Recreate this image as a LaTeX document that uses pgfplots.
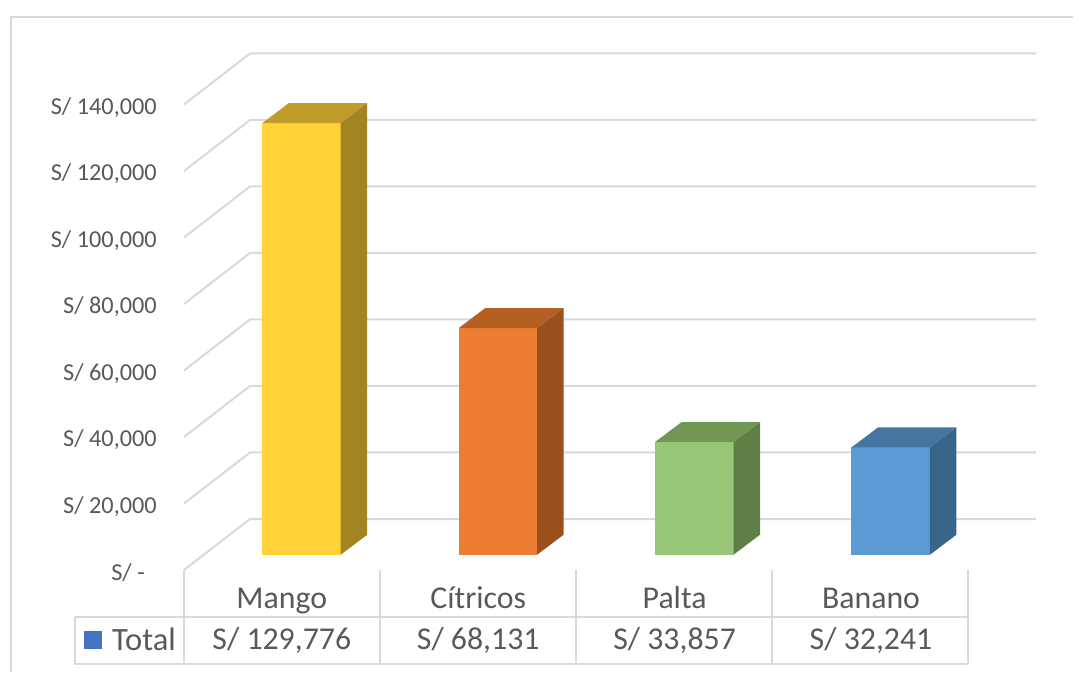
\documentclass[border=0pt]{standalone}
\usepackage{pgfplots}
\pgfplotsset{compat=1.18}
\usepackage{fontspec}
\setmainfont{Carlito}

\definecolor{gridgray}{HTML}{D9D9D9}
\definecolor{textgray}{HTML}{595959}
\definecolor{mangoF}{HTML}{FFD238}
\definecolor{mangoT}{HTML}{C09C2A}
\definecolor{mangoS}{HTML}{A38423}
\definecolor{citF}{HTML}{ED7D31}
\definecolor{citT}{HTML}{B55F22}
\definecolor{citS}{HTML}{99501B}
\definecolor{paltaF}{HTML}{97C776}
\definecolor{paltaT}{HTML}{739856}
\definecolor{paltaS}{HTML}{5F7F47}
\definecolor{bananoF}{HTML}{5B9BD5}
\definecolor{bananoT}{HTML}{4575A0}
\definecolor{bananoS}{HTML}{38648A}
\definecolor{keyblue}{HTML}{4472C4}

\newcommand{\rowstrut}{\rule{0pt}{24pt}}

\begin{document}
\begin{tikzpicture}
\begin{axis}[
    scale only axis,
    width=852pt,
    height=517pt,
    xmin=-0.598, xmax=3.740,
    ymin=-4602, ymax=150887,
    clip=false,
    axis line style={draw=none},
    tick style={draw=none},
    unbounded coords=jump,
    scaled y ticks=false,
    % front edge of the floor sits below the bars' base, so ticks are offset
    ytick={-4602,15398,35398,55398,75398,95398,115398,135398},
    yticklabels={{S/ -\rule{12pt}{0pt}},{S/ 20,000},{S/ 40,000},{S/ 60,000},{S/ 80,000},{S/ 100,000},{S/ 120,000},{S/ 140,000}},
    yticklabel style={font=\fontsize{24.3}{28}\selectfont, text=textgray, inner sep=0pt, xshift=-27pt, yshift=-3pt},
    ytick pos=left,
    xtick={-0.1,0.9,1.9,2.9},
    xticklabels={{\rowstrut Mango\\S/ 129,776},{\rowstrut Cítricos\\S/ 68,131},{\rowstrut Palta\\S/ 33,857},{\rowstrut Banano\\S/ 32,241}},
    xticklabel style={font=\fontsize{31.8}{41}\selectfont, text=textgray, align=center, inner sep=0pt, yshift=-14pt},
    xtick pos=bottom,
    major tick length=0pt,
    legend style={draw=none, fill=none, at={(-100pt,-56pt)}, anchor=north west,
        font=\fontsize{32.5}{36}\selectfont, text=textgray, inner sep=0pt,
        legend cell align=left},
]
% back wall grid with the diagonals on the side wall
\addplot[gridgray, line width=2pt, forget plot] coordinates {
    (-0.598,-4602) (-0.262,10737) (3.740,10737) (nan,nan)
    (-0.598,15398) (-0.262,30737) (3.740,30737) (nan,nan)
    (-0.598,35398) (-0.262,50737) (3.740,50737) (nan,nan)
    (-0.598,55398) (-0.262,70737) (3.740,70737) (nan,nan)
    (-0.598,75398) (-0.262,90737) (3.740,90737) (nan,nan)
    (-0.598,95398) (-0.262,110737) (3.740,110737) (nan,nan)
    (-0.598,115398) (-0.262,130737) (3.740,130737) (nan,nan)
    (-0.598,135398) (-0.262,150737) (3.740,150737)
};

% Mango
\addplot[ybar, bar width=0.4, bar shift=0pt, draw=none, fill=mangoF, forget plot] coordinates {(0,129776)};
\addplot[draw=none, fill=mangoT, forget plot] coordinates {(-0.2,129776) (0.2,129776) (0.335,135791) (-0.065,135791)} --cycle;
\addplot[draw=none, fill=mangoS, forget plot] coordinates {(0.2,0) (0.335,6015) (0.335,135791) (0.2,129776)} --cycle;
% Citricos
\addplot[ybar, bar width=0.4, bar shift=0pt, draw=none, fill=citF, forget plot] coordinates {(1,68131)};
\addplot[draw=none, fill=citT, forget plot] coordinates {(0.8,68131) (1.2,68131) (1.335,74146) (0.935,74146)} --cycle;
\addplot[draw=none, fill=citS, forget plot] coordinates {(1.2,0) (1.335,6015) (1.335,74146) (1.2,68131)} --cycle;
% Palta
\addplot[ybar, bar width=0.4, bar shift=0pt, draw=none, fill=paltaF, forget plot] coordinates {(2,33857)};
\addplot[draw=none, fill=paltaT, forget plot] coordinates {(1.8,33857) (2.2,33857) (2.335,39872) (1.935,39872)} --cycle;
\addplot[draw=none, fill=paltaS, forget plot] coordinates {(2.2,0) (2.335,6015) (2.335,39872) (2.2,33857)} --cycle;
% Banano
\addplot[ybar, bar width=0.4, bar shift=0pt, draw=none, fill=bananoF, forget plot] coordinates {(3,32241)};
\addplot[draw=none, fill=bananoT, forget plot] coordinates {(2.8,32241) (3.2,32241) (3.335,38256) (2.935,38256)} --cycle;
\addplot[draw=none, fill=bananoS, forget plot] coordinates {(3.2,0) (3.335,6015) (3.335,38256) (3.2,32241)} --cycle;

\addlegendimage{legend image code/.code={\fill[keyblue, draw=none] (0pt,-9pt) rectangle (18pt,9pt); \path[draw=none, fill=none] (0pt,0pt) -- (26pt,0pt);}}
\addlegendentry{Total}
\end{axis}
% data table rules and outer frame, 1pt = 1px of the reference, origin at (184,570 from top)
\draw[gridgray, line width=2pt]
    (0pt,0pt) -- (0pt,-94pt)
    (196pt,0pt) -- (196pt,-94pt)
    (392pt,0pt) -- (392pt,-94pt)
    (588pt,0pt) -- (588pt,-94pt)
    (784pt,0pt) -- (784pt,-94pt)
    (-109pt,-47pt) -- (784pt,-47pt)
    (-109pt,-47pt) -- (-109pt,-94pt) -- (784pt,-94pt);
\draw[gridgray, line width=2pt]
    (-173pt,-102pt) -- (-173pt,553pt) -- (889pt,553pt);
\path (-184pt,-103pt) rectangle (890pt,570pt);
\end{tikzpicture}
\end{document}
